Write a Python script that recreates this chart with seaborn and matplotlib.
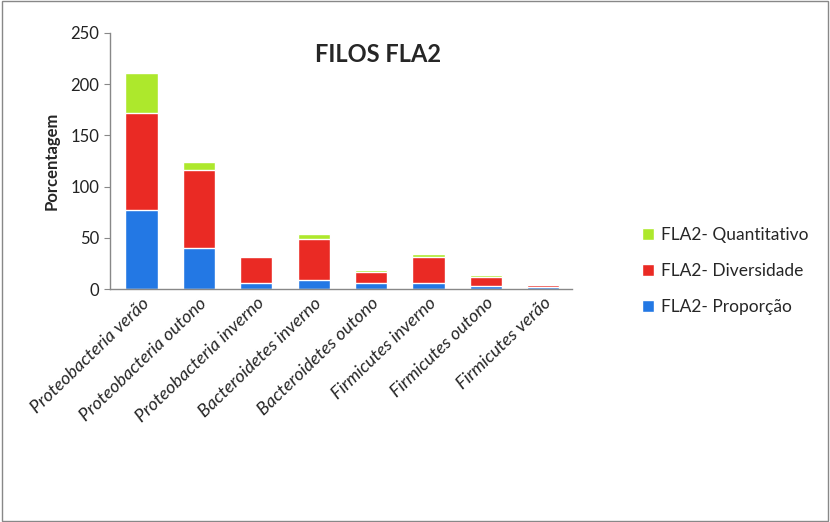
import numpy as np
import pandas as pd
import matplotlib
matplotlib.use("Agg")
import matplotlib.pyplot as plt
import seaborn as sns
from matplotlib.patches import Rectangle

# Dados
categorias = ["Proteobacteria verão", "Proteobacteria outono", "Proteobacteria inverno",
              "Bacteroidetes inverno", "Bacteroidetes outono", "Firmicutes inverno",
              "Firmicutes outono", "Firmicutes verão"]
proporcao = [77, 40, 6, 9.5, 6, 6, 3, 2.5]
diversidade = [95, 76, 25, 39.5, 11, 25, 9, 1.2]
quantitativo = [39, 8, 1.5, 4.5, 1.5, 3, 1.5, 1.3]

df = pd.DataFrame({
    "categoria": categorias,
    "prop": proporcao,
    "div": np.add(proporcao, diversidade),
    "quant": np.add(np.add(proporcao, diversidade), quantitativo),
})

cor_azul = "#2378E4"
cor_verm = "#EA2A24"
cor_verde = "#ADE82C"

sns.set_style("white")
plt.rcParams["font.family"] = ["Lato", "DejaVu Sans"]

fig = plt.figure(figsize=(8.3, 5.22), dpi=100)
ax = fig.add_axes([0.1325, 0.4458, 0.5566, 0.4916])

# Barras empilhadas (totais acumulados, do topo para a base)
sns.barplot(data=df, x="categoria", y="quant", color=cor_verde, width=0.56,
            saturation=1, ax=ax, label="FLA2- Quantitativo")
sns.barplot(data=df, x="categoria", y="div", color=cor_verm, width=0.56,
            saturation=1, ax=ax, label="FLA2- Diversidade")
sns.barplot(data=df, x="categoria", y="prop", color=cor_azul, width=0.56,
            saturation=1, ax=ax, label="FLA2- Proporção")
handles, labels = ax.get_legend_handles_labels()
if ax.get_legend() is not None:
    ax.get_legend().remove()

ax.set_ylim(0, 250)
ax.set_xlim(-0.55, 7.5)
ax.set_yticks([0, 50, 100, 150, 200, 250])
ax.tick_params(axis="y", labelsize=12, length=4, color="#888888", direction="out", left=True)
ax.tick_params(axis="x", length=0, labelsize=13, pad=4)
ax.set_xticks(range(len(categorias)))
ax.set_xticklabels(categorias, rotation=44, ha="right", rotation_mode="anchor",
                   style="italic")
for lab in ax.get_yticklabels():
    lab.set_color("#222222")

for s in ["top", "right"]:
    ax.spines[s].set_visible(False)
for s in ["left", "bottom"]:
    ax.spines[s].set_color("#888888")
    ax.spines[s].set_linewidth(1)

ax.set_xlabel("")
ax.set_ylabel("Porcentagem", fontsize=12, fontweight="bold", labelpad=8)
ax.set_title("FILOS FLA2", fontsize=17, fontweight="bold", x=0.58, y=0.855)

fig.legend(handles, labels, loc="center left", bbox_to_anchor=(0.755, 0.48),
           frameon=False, fontsize=12.5, handlelength=0.7, handleheight=0.7,
           labelspacing=1.15, handletextpad=0.4)

# Moldura da figura
fig.patches.append(Rectangle((0.002, 0.002), 0.996, 0.996, transform=fig.transFigure,
                             fill=False, edgecolor="#888888", linewidth=1))

fig.savefig("out.png", dpi=100)
